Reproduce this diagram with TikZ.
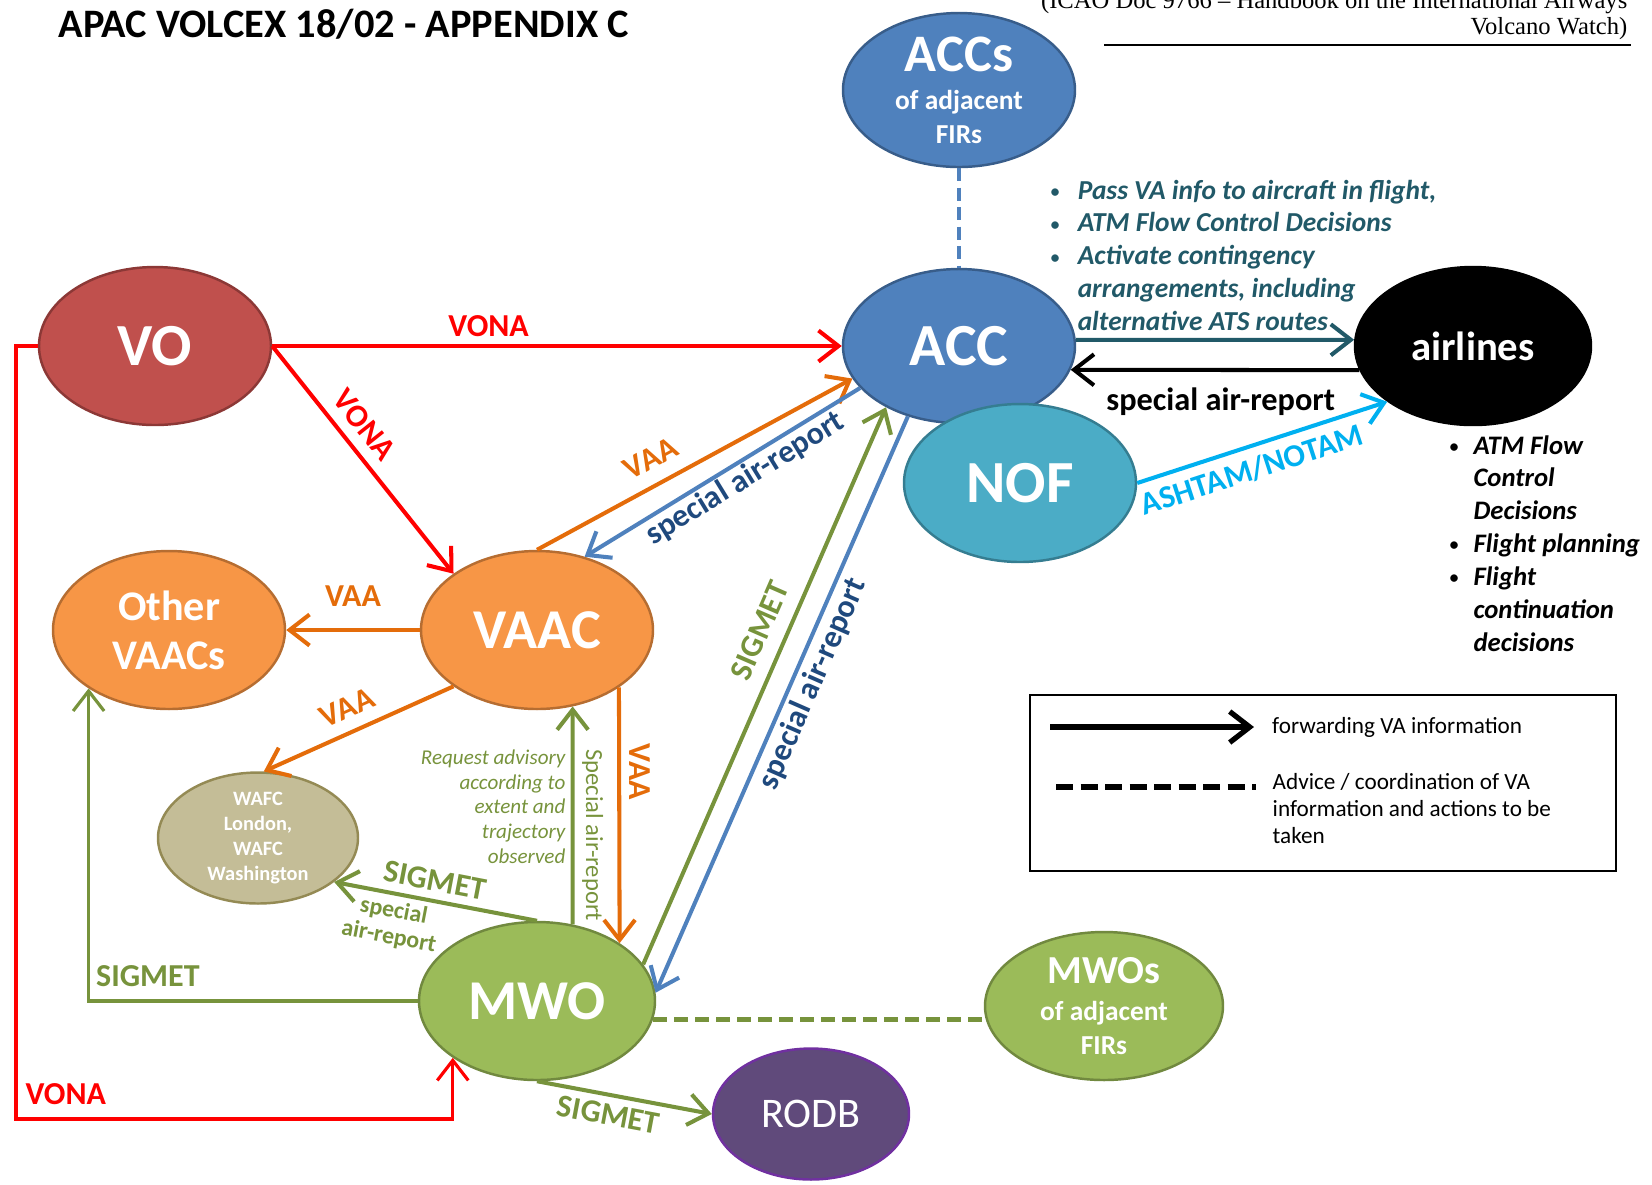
\documentclass[tikz,border=0pt]{standalone}
\usepackage{fontspec}
\setmainfont{Carlito}
\newfontfamily\docfont{Liberation Serif}
\usepackage{tikz}
\usetikzlibrary{shapes.geometric,arrows.meta}

\definecolor{vored}{HTML}{C0504D}
\definecolor{voedge}{HTML}{8C3836}
\definecolor{accblue}{HTML}{4F81BD}
\definecolor{accedge}{HTML}{385D8A}
\definecolor{nofteal}{HTML}{4BACC6}
\definecolor{nofedge}{HTML}{357D91}
\definecolor{vaacorange}{HTML}{F79646}
\definecolor{vaacedge}{HTML}{B66D31}
\definecolor{wafctan}{HTML}{C4BD97}
\definecolor{wafcedge}{HTML}{948A54}
\definecolor{mwogreen}{HTML}{9BBB59}
\definecolor{mwoedge}{HTML}{71893F}
\definecolor{rodbpurple}{HTML}{604A7B}
\definecolor{rodbedge}{HTML}{7030A0}
\definecolor{vaaline}{HTML}{E46C0A}
\definecolor{sigline}{HTML}{77933C}
\definecolor{navytext}{HTML}{1F497D}
\definecolor{darkteal}{HTML}{215968}
\definecolor{ashcyan}{HTML}{00B0F0}

\newcommand{\dotmark}{\raisebox{0.5pt}{\fontsize{5}{5}\selectfont\textbullet}}

\begin{document}
\begin{tikzpicture}[x=0.1mm,y=-0.1mm,
    >={Straight Barb[length=2mm,width=3.1mm]},
    every node/.style={inner sep=1pt},
    blob/.style={ellipse,draw,line width=0.7pt,inner sep=0pt,text=white,align=center,
        font=\bfseries\fontsize{17}{20}\selectfont},
    lbl/.style={font=\bfseries\fontsize{9.1}{11}\selectfont},
    flow/.style={line width=1.15pt}]
    \useasboundingbox (0,0) rectangle (1652,1184);

    \node[anchor=west, inner sep=0pt, font=\bfseries\fontsize{11.5}{14}\selectfont] (title) at (58,24) {APAC VOLCEX 18/02 - APPENDIX C};
    \node[anchor=base east, inner sep=0pt, font=\docfont\fontsize{7}{7.3}\selectfont] (source) at (1628,34)
        {\begin{tabular}[b]{@{}r@{}}(ICAO Doc 9766 – Handbook on the International Airways\\Volcano Watch)\end{tabular}};
    \coordinate (rulea) at (1104,45);
    \coordinate (ruleb) at (1631,45);
    \draw[line width=0.5pt] (rulea) -- (ruleb);

	\node[blob, fill=accblue, draw=accedge, minimum width=23.2mm, minimum height=15.4mm,
        font=\bfseries\fontsize{7.8}{9.7}\selectfont] (accs) at (959,90)
        {{\fontsize{15}{15}\selectfont ACCs}\\[1.1pt]of adjacent\\FIRs};
	\node[blob, fill=accblue, draw=accedge, minimum width=23.2mm, minimum height=15.4mm] (acc) at (959,346) {ACC};
	\node[blob, fill=nofteal, draw=nofedge, minimum width=23.2mm, minimum height=15.8mm] (nof) at (1020,483) {NOF};
	\node[blob, fill=black, draw=black, minimum width=23.6mm, minimum height=15.8mm,
        font=\bfseries\fontsize{11.6}{14}\selectfont] (airl) at (1473,346) {airlines};
	\node[blob, fill=vored, draw=voedge, minimum width=23.2mm, minimum height=15.8mm] (vo) at (155,346) {VO};
	\node[blob, fill=vaacorange, draw=vaacedge, minimum width=23.2mm, minimum height=15.8mm,
        font=\bfseries\fontsize{16}{19}\selectfont] (vaac) at (537,630) {VAAC};
	\node[blob, fill=vaacorange, draw=vaacedge, minimum width=23.2mm, minimum height=15.8mm,
        font=\bfseries\fontsize{12}{14}\selectfont] (oth) at (169,630) {Other\\VAACs};
	\node[blob, fill=wafctan, draw=wafcedge, minimum width=20mm, minimum height=13.1mm, inner sep=-3pt,
        font=\bfseries\fontsize{5.8}{7.05}\selectfont] (wafc) at (258,838) {WAFC\\London,\\WAFC\\Washington};
	\node[blob, fill=mwogreen, draw=mwoedge, minimum width=23.6mm, minimum height=15.8mm,
        font=\bfseries\fontsize{16}{19}\selectfont] (mwo) at (537,1001) {MWO};
	\node[blob, fill=mwogreen, draw=mwoedge, minimum width=23.8mm, minimum height=14.8mm,
        font=\bfseries\fontsize{7.8}{9.7}\selectfont] (mwos) at (1104,1006)
        {{\fontsize{11.3}{12}\selectfont MWOs}\\[1pt]of adjacent\\FIRs};
	\node[blob, fill=rodbpurple, draw=rodbedge, minimum width=19.6mm, minimum height=13.1mm,
        font=\fontsize{12}{14}\selectfont] (rodb) at (811,1114) {RODB};

    % notes beside ACC and airlines
    \node[anchor=base west, inner sep=0pt, text=darkteal, font=\bfseries\itshape\fontsize{7.8}{9.36}\selectfont] (acctasks) at (1050,199)
        {\begin{tabular}[t]{@{}p{7.7pt}@{}l@{}}
        \dotmark & Pass VA info to aircraft in flight,\\
        \dotmark & ATM Flow Control Decisions\\
        \dotmark & Activate contingency\\
                 & arrangements, including\\
                 & alternative ATS routes
        \end{tabular}};
    \node[anchor=base west, inner sep=0pt, font=\bfseries\itshape\fontsize{7.6}{9.36}\selectfont] (airltasks) at (1449,454)
        {\begin{tabular}[t]{@{}p{6.8pt}@{}l@{}}
        \dotmark & ATM Flow\\
                 & Control\\
                 & Decisions\\
        \dotmark & Flight planning\\
        \dotmark & Flight\\
                 & continuation\\
                 & decisions
        \end{tabular}};

  % VONA
  \draw[->, flow, red] (vo.east) -- node[lbl, above=1pt, pos=.38] {VONA} (acc.west);
  \draw[->, flow, red] (vo.east) -- node[lbl, sloped, above=2pt, pos=.41] {VONA} (vaac.146);
  \coordinate (vbend) at (16,1119);
  \draw[->, line width=0.9pt, red] (vo.west) -| (vbend) -| node[lbl, above=2.5pt, pos=.057] {VONA} (mwo.214);

  % VAAC
  \draw[->, flow, vaaline] (vaac.north) -- node[lbl, sloped, above=3pt, pos=.4] {VAA} (acc.197);
  \draw[->, flow, accblue] (acc.203) -- node[lbl, sloped, below=-.5pt, pos=.45, text=navytext] {special air-report} (vaac.57);
  \draw[->, flow, vaaline] (vaac.west) -- node[lbl, above=5pt] {VAA} (oth.east);
  \draw[->, flow, vaaline] (vaac.214) -- node[lbl, sloped, above=2.3pt, pos=.51] {VAA} (wafc.85);
  \draw[->, flow, vaaline] (vaac.325) -- node[lbl, rotate=-90, anchor=south, outer sep=2pt, pos=.33] {VAA} (mwo.35);

  % MWO
  \draw[->, flow, sigline] (mwo.65) -- node[rotate=-90, anchor=south, outer sep=1.7pt, pos=.41, font=\fontsize{7}{8}\selectfont] {Special air-report}
        node[pos=.54, left=.5pt, align=right, font=\itshape\fontsize{6}{7.05}\selectfont] {Request advisory\\according to\\extent and\\trajectory\\observed} (vaac.295);
  \draw[->, flow, sigline] (mwo.19) -- node[lbl, sloped, above=3pt, pos=.58] {SIGMET} (acc.220);
  \draw[->, flow, accblue] (acc.234) -- node[lbl, sloped, below=.3pt, pos=.45, text=navytext] {special air-report} (mwo.4);
  \draw[->, flow, sigline] (mwo.north) -- node[lbl, sloped, above=1.3pt, pos=.52] {SIGMET}
        node[sloped, below=.5pt, pos=.69, align=center, font=\bfseries\fontsize{6.8}{7.5}\selectfont] {special\\air-report} (wafc.330);
  \draw[->, line width=0.9pt, sigline] (mwo.west) -| node[lbl, above=2.5pt, pos=.41] {SIGMET} (oth.216);
  \draw[->, flow, sigline] (mwo.south) -- node[lbl, sloped, below=1pt, pos=.43] {SIGMET} (rodb.west);

  % coordination
  \draw[accblue, line width=1.2pt, dash pattern=on 1.3mm off 0.65mm] (accs.south) -- (acc.north);
  \draw[sigline, line width=1.3pt, dash pattern=on 1.4mm off 0.7mm] (mwo.351) -- (mwo.351 -| mwos.west);

  % ACC, NOF and airlines
  \draw[->, flow, darkteal] (acc.3) -- (airl.177);
  \draw[->, flow, black] (airl.192) -- node[below=3.6pt, pos=.48, font=\bfseries\fontsize{9.2}{11}\selectfont] {special air-report} (acc.348);
  \draw[->, flow, ashcyan] (nof.east) -- node[lbl, sloped, below=1.6pt, pos=.43] {ASHTAM/NOTAM} (airl.213);

  % key
  \node[draw, line width=0.5pt, minimum width=58.6mm, minimum height=17.6mm, inner sep=0pt, anchor=north west] (key) at (1029,694) {};
  \coordinate (keya) at (1050,727);
  \coordinate (keyb) at (1254,727);
  \draw[->, line width=1.5pt] (keya) -- (keyb);
  \node[anchor=west, font=\fontsize{6.6}{7.8}\selectfont] (keyatext) at (1268,727) {forwarding VA information};
  \coordinate (keyc) at (1056,787);
  \coordinate (keyd) at (1256,787);
  \draw[line width=1.8pt, dash pattern=on 1.7mm off 0.75mm] (keyc) -- (keyd);
  \node[anchor=base west, inner sep=0pt, font=\fontsize{6.6}{7.8}\selectfont] (keyctext) at (1272,789)
      {\begin{tabular}[t]{@{}l@{}}Advice / coordination of VA\\information and actions to be\\taken\end{tabular}};
\end{tikzpicture}
\end{document}
